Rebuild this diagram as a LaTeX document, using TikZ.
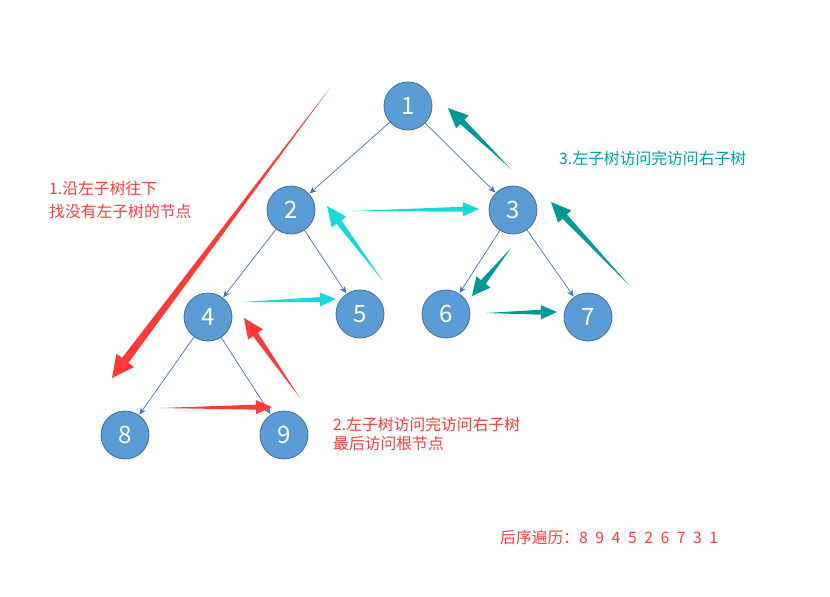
\documentclass[tikz,border=0pt]{standalone}
\usepackage{fontspec}
\setmainfont{Noto Sans CJK SC}
\usetikzlibrary{calc,arrows.meta}
\definecolor{nodefill}{RGB}{91,155,213}
\definecolor{nodeline}{RGB}{65,113,156}
\definecolor{edgeblue}{RGB}{68,114,196}
\definecolor{redarr}{RGB}{255,56,56}
\definecolor{cyanarr}{RGB}{22,218,218}
\definecolor{tealarr}{RGB}{0,153,150}
\definecolor{redtext}{RGB}{255,60,60}
\definecolor{tealtext}{RGB}{0,160,160}
\tikzset{
  treenode/.style={circle,minimum size=48pt,inner sep=0pt,fill=nodefill,draw=nodeline,line width=0.8pt,text=white,font=\fontsize{24}{24}\selectfont},
  treeedge/.style={draw=edgeblue,line width=0.7pt,-{Stealth[length=7pt,width=6pt]},shorten >=0.5pt},
  redlabel/.style={text=redtext,font=\fontsize{15.8}{20}\selectfont,anchor=west,inner sep=0pt,align=left},
  teallabel/.style={text=tealtext,font=\fontsize{15.8}{20}\selectfont,anchor=west,inner sep=0pt}
}
% tapered arrow: colour, tail, tip, shaft half width, head length, head half width
\newcommand\taperarrow[6]{%
  \coordinate (hb) at ($(#3)!#5!(#2)$);
  \fill[#1] (#2) -- ($(hb)!#4!90:(#3)$) -- ($(hb)!#6!90:(#3)$) -- (#3)
    -- ($(hb)!#6!-90:(#3)$) -- ($(hb)!#4!-90:(#3)$) -- cycle;
}
\newcommand\dg{\hspace{7.5pt}}
\begin{document}
\begin{tikzpicture}[x=1pt,y=-1pt]
\useasboundingbox[fill=white] (0,0) rectangle (830,597);
% tree nodes
\node[treenode] (n1) at (408,106) {1};
\node[treenode] (n2) at (291,210) {2};
\node[treenode] (n3) at (513,210) {3};
\node[treenode] (n4) at (208,317) {4};
\node[treenode] (n5) at (360,314) {5};
\node[treenode] (n6) at (446,314) {6};
\node[treenode] (n7) at (588,317) {7};
\node[treenode] (n8) at (125,435) {8};
\node[treenode] (n9) at (284,435) {9};
% tree edges
\draw[treeedge] (n1) -- (n2);
\draw[treeedge] (n1) -- (n3);
\draw[treeedge] (n2) -- (n4);
\draw[treeedge] (n2) -- (n5);
\draw[treeedge] (n3) -- (n6);
\draw[treeedge] (n3) -- (n7);
\draw[treeedge] (n4) -- (n8);
\draw[treeedge] (n4) -- (n9);
% traversal arrow end points
\coordinate (rAt) at (330,88);  \coordinate (rAh) at (112,378);
\coordinate (rBt) at (160,408); \coordinate (rBh) at (272,407);
\coordinate (rCt) at (300,398); \coordinate (rCh) at (244,318);
\coordinate (cAt) at (243,302); \coordinate (cAh) at (336,299);
\coordinate (cBt) at (383,281); \coordinate (cBh) at (327,206);
\coordinate (cCt) at (352,211); \coordinate (cCh) at (479,209);
\coordinate (tAt) at (511,248); \coordinate (tAh) at (472,296);
\coordinate (tBt) at (486,313); \coordinate (tBh) at (557,312);
\coordinate (tCt) at (630,286); \coordinate (tCh) at (551,202);
\coordinate (tDt) at (511,169); \coordinate (tDh) at (448,108);
% traversal arrows
\taperarrow{redarr}{rAt}{rAh}{4pt}{22pt}{11pt}
\taperarrow{redarr}{rBt}{rBh}{2.5pt}{16pt}{7pt}
\taperarrow{redarr}{rCt}{rCh}{3pt}{20pt}{9pt}
\taperarrow{cyanarr}{cAt}{cAh}{2.5pt}{16pt}{7pt}
\taperarrow{cyanarr}{cBt}{cBh}{3pt}{20pt}{9pt}
\taperarrow{cyanarr}{cCt}{cCh}{2.5pt}{16pt}{7pt}
\taperarrow{tealarr}{tAt}{tAh}{3pt}{18pt}{9pt}
\taperarrow{tealarr}{tBt}{tBh}{2.5pt}{16pt}{7pt}
\taperarrow{tealarr}{tCt}{tCh}{3pt}{20pt}{9pt}
\taperarrow{tealarr}{tDt}{tDh}{3pt}{20pt}{9pt}
% labels
\node[redlabel] (l1a) at (49,188) {1.沿左子树往下};
\node[redlabel] (l1b) at (49,211) {找没有左子树的节点};
\node[redlabel] (l2a) at (333,424) {2.左子树访问完访问右子树};
\node[redlabel] (l2b) at (333,444) {最后访问根节点};
\node[teallabel] (l3) at (559,158) {3.左子树访问完访问右子树};
\node[redlabel] (l4) at (500,537) {后序遍历：8\dg 9\dg 4\dg 5\dg 2\dg 6\dg 7\dg 3\dg 1};
\end{tikzpicture}
\end{document}
